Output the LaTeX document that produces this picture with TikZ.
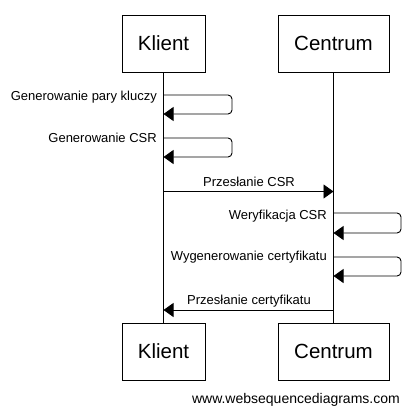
\documentclass[tikz,border=0pt]{standalone}
\usepackage{fontspec}
\setmainfont{Liberation Sans}
\usetikzlibrary{arrows.meta}
\begin{document}
\begin{tikzpicture}[x=1pt,y=-1pt,
  actor/.style={draw,line width=0.9pt,minimum width=83pt,minimum height=57pt,inner sep=0pt,font=\fontsize{20.5}{24}\selectfont},
  life/.style={line width=0.9pt},
  msg/.style={line width=0.9pt,-{Triangle[length=10pt,width=14pt]}},
  loopmsg/.style={msg,rounded corners=4pt},
  lbl/.style={font=\fontsize{13}{15}\selectfont,inner sep=0pt}]
\useasboundingbox (0,0) rectangle (411,415);
\node[actor] (kt) at (163.5,43.5) {Klient};
\node[actor,minimum width=111pt] (ct) at (333.5,43.5) {Centrum};
\node[actor] (kb) at (163.5,351.5) {Klient};
\node[actor,minimum width=111pt] (cb) at (333.5,351.5) {Centrum};
\draw[life] (kt.south) -- (kb.north);
\draw[life] (ct.south) -- (cb.north);
% self message 1
\coordinate (k1a) at (163.5,95);
\coordinate (k1b) at (163.5,114);
\draw[loopmsg] (k1a) -- (232,95) -- (232,114) -- (k1b);
\node[lbl,anchor=east] (l1) at (157,97) {Generowanie pary kluczy};
% self message 2
\coordinate (k2a) at (163.5,138);
\coordinate (k2b) at (163.5,157);
\draw[loopmsg] (k2a) -- (232,138) -- (232,157) -- (k2b);
\node[lbl,anchor=east] (l2) at (157,138) {Generowanie CSR};
% message 3
\coordinate (m3a) at (163.5,191.5);
\coordinate (m3b) at (333.5,191.5);
\draw[msg] (m3a) -- (m3b);
\node[lbl] (l3) at (249,182) {Przesłanie CSR};
% self message 4
\coordinate (c4a) at (333.5,213);
\coordinate (c4b) at (333.5,233);
\draw[loopmsg] (c4a) -- (401,213) -- (401,233) -- (c4b);
\node[lbl,anchor=east] (l4) at (327,216) {Weryfikacja CSR};
% self message 5
\coordinate (c5a) at (333.5,257);
\coordinate (c5b) at (333.5,276);
\draw[loopmsg] (c5a) -- (401,257) -- (401,276) -- (c5b);
\node[lbl,anchor=east] (l5) at (327,257) {Wygenerowanie certyfikatu};
% message 6
\coordinate (m6a) at (333.5,310);
\coordinate (m6b) at (163.5,310);
\draw[msg] (m6a) -- (m6b);
\node[lbl] (l6) at (249,301) {Przesłanie certyfikatu};
\node[lbl,anchor=east,font=\fontsize{14}{17}\selectfont] (wm) at (400,400) {www.websequencediagrams.com};
\end{tikzpicture}
\end{document}
